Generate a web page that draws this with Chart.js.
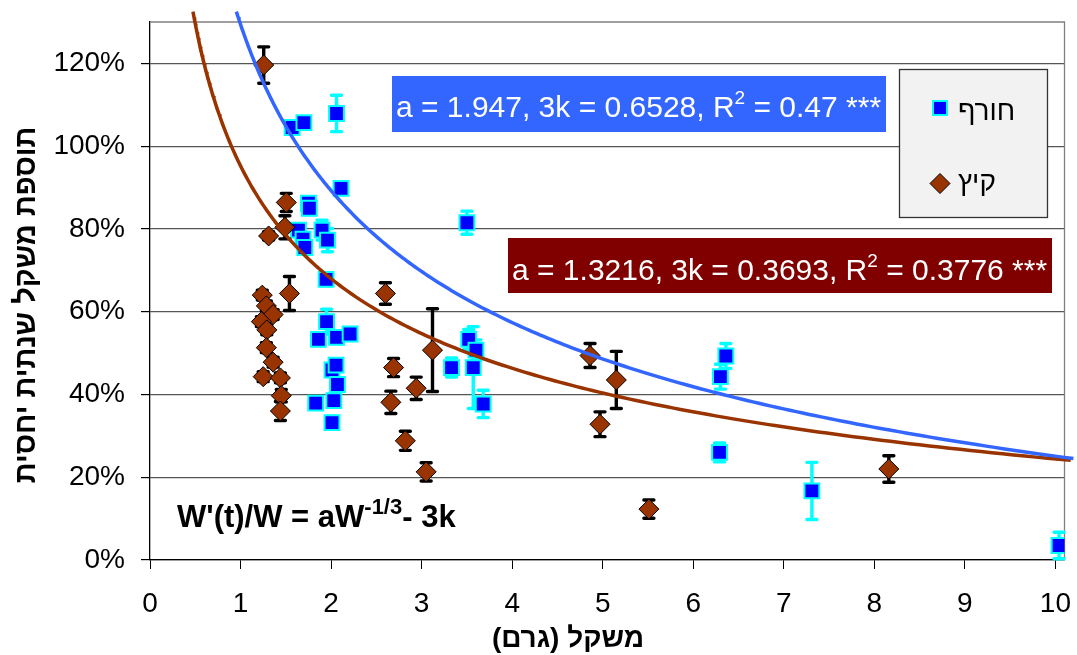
<!DOCTYPE html>
<html>
<head>
<meta charset="utf-8">
<script src="https://cdn.jsdelivr.net/npm/chart.js@4.4.1/dist/chart.umd.min.js"></script>
<style>
  html, body { margin: 0; padding: 0; background: #ffffff; }
  canvas { display: block; }
</style>
</head>
<body>
<canvas id="chart" width="1077" height="655"></canvas>
<script>
const FONT = '"Liberation Sans", Arial, "DejaVu Sans", sans-serif';

// Winter sample (חורף): body weight (g), relative annual weight gain (%), error half-length (%)
const winterX   = [1.57, 1.70, 2.06, 2.11, 1.75, 1.76, 1.64, 1.69, 1.71, 1.90, 1.96, 1.945, 1.95, 1.86, 2.06, 2.21, 2.01, 2.055, 2.07, 1.83, 2.03, 2.01, 3.50, 3.33, 3.52, 3.60, 3.57, 3.68, 6.36, 6.30, 6.29, 7.31, 10.04];
const winterY   = [104.5, 105.7, 107.9, 89.8, 86.2, 85.0, 79.7, 77.5, 75.5, 79.7, 77.3, 67.8, 57.6, 53.3, 53.8, 54.6, 45.9, 47.1, 42.4, 37.9, 38.5, 33.2, 81.5, 46.5, 53.3, 50.7, 46.5, 37.7, 49.3, 44.3, 26.0, 16.7, 3.5];
const winterErr = [1.2, 1.2, 4.4, 1.2, 1.5, 1.5, 1.5, 1.5, 1.5, 2.4, 2.8, 1.5, 3.0, 1.5, 1.5, 1.5, 1.5, 1.5, 1.5, 1.2, 1.5, 1.5, 2.8, 2.3, 2.4, 2.5, 9.9, 3.3, 3.0, 3.0, 2.3, 6.9, 3.2];

// Summer sample (קיץ)
const summerX   = [1.256, 1.505, 1.49, 1.31, 1.54, 1.24, 1.285, 1.36, 1.23, 1.29, 1.285, 1.36, 1.25, 1.44, 1.45, 1.44, 2.60, 2.69, 2.66, 2.94, 2.82, 3.05, 3.12, 4.86, 5.15, 4.97, 5.51, 8.16];
const summerY   = [119.6, 86.4, 80.4, 78.3, 64.4, 64.0, 61.4, 59.3, 57.6, 55.6, 51.3, 47.8, 44.3, 44.0, 39.7, 36.0, 64.4, 46.5, 38.1, 41.5, 28.8, 21.3, 50.7, 49.4, 43.5, 32.8, 12.3, 22.0];
const summerErr = [4.4, 2.2, 2.8, 1.0, 4.1, 1.2, 1.2, 1.2, 1.2, 1.2, 1.2, 1.2, 1.2, 1.2, 1.5, 2.3, 2.6, 2.2, 2.7, 2.7, 2.3, 2.2, 10.0, 2.9, 6.9, 3.0, 2.2, 3.2];

// Axis ticks
const xTicks = [0, 1, 2, 3, 4, 5, 6, 7, 8, 9, 10];
const yTicks = [0, 20, 40, 60, 80, 100, 120];

// Fitted growth model W'(t)/W = a·W^(-1/3) − 3k for each season
const winterFit = { a: 1.947,  k3: 0.6528, r2: 0.47 };
const summerFit = { a: 1.3216, k3: 0.3693, r2: 0.3776 };

const seriesNames = { winter: 'חורף', summer: 'קיץ' };
const colors = {
  winterFill: '#0000FF', winterEdge: '#00FFFF', winterLine: '#3366FF', winterBox: '#3366FF',
  summerFill: '#993300', summerEdge: '#000000', summerLine: '#993300', summerBox: '#800000'
};

function toPoints(xs, ys) { return xs.map((x, i) => ({ x: x, y: ys[i] })); }

// Sample the fitted curve from where it leaves the top of the figure to the right edge
function fitCurve(fit, yTopPct, xEnd) {
  const x0 = Math.pow((yTopPct / 100 + fit.k3) / fit.a, -3);
  const pts = [];
  const n = 240;
  for (let i = 0; i <= n; i++) {
    const x = x0 * Math.pow(xEnd / x0, i / n);
    pts.push({ x: x, y: 100 * (fit.a * Math.pow(x, -1 / 3) - fit.k3) });
  }
  return pts;
}

// Vertical error bars with flat caps, drawn just before each scatter series
const errorBars = {
  id: 'errorBars',
  beforeDatasetDraw(chart, args) {
    const ds = chart.data.datasets[args.index];
    if (!ds.errors) return;
    const ctx = chart.ctx, xs = chart.scales.x, ys = chart.scales.y;
    ctx.save();
    ctx.strokeStyle = ds.errorColor;
    ctx.lineWidth = 3.4;
    ctx.lineCap = 'round';
    ds.data.forEach((p, i) => {
      const e = ds.errors[i];
      const px = xs.getPixelForValue(p.x);
      const top = ys.getPixelForValue(p.y + e);
      const bot = ys.getPixelForValue(p.y - e);
      ctx.beginPath();
      ctx.moveTo(px, top); ctx.lineTo(px, bot);
      ctx.moveTo(px - 5, top); ctx.lineTo(px + 5, top);
      ctx.moveTo(px - 5, bot); ctx.lineTo(px + 5, bot);
      ctx.stroke();
    });
    ctx.restore();
  }
};

// Write a run of text pieces, some of them raised as superscripts
function drawRich(ctx, parts, x, baseline, color, weight) {
  ctx.fillStyle = color;
  ctx.textAlign = 'left';
  ctx.textBaseline = 'alphabetic';
  ctx.direction = 'ltr';
  let cx = x;
  parts.forEach(p => {
    ctx.font = `${weight} ${p.size}px ${FONT}`;
    ctx.fillText(p.t, cx, baseline + (p.dy || 0));
    cx += ctx.measureText(p.t).width;
  });
}

function fitLabel(fit) {
  return [
    { t: `a = ${fit.a}, 3k = ${fit.k3}, R`, size: 30 },
    { t: '2', size: 19, dy: -13 },
    { t: ` = ${fit.r2} ***`, size: 30 }
  ];
}

const decorations = {
  id: 'decorations',
  beforeDatasetsDraw(chart) {
    const ctx = chart.ctx, a = chart.chartArea;
    // plot-area frame on the top and right
    ctx.save();
    ctx.strokeStyle = '#808080';
    ctx.lineWidth = 1.3;
    ctx.beginPath();
    ctx.moveTo(a.left, a.top); ctx.lineTo(a.right, a.top); ctx.lineTo(a.right, a.bottom);
    ctx.stroke();
    ctx.restore();
  },
  afterDraw(chart) {
    const ctx = chart.ctx;
    ctx.save();

    // axis titles
    ctx.fillStyle = '#000';
    ctx.direction = 'rtl';
    ctx.textAlign = 'center';
    ctx.font = `bold 28px ${FONT}`;
    ctx.textBaseline = 'alphabetic';
    ctx.fillText('משקל (גרם)', 568, 647);

    ctx.save();
    ctx.translate(27, 305);
    ctx.rotate(-Math.PI / 2);
    ctx.textBaseline = 'middle';
    ctx.font = `bold 29px ${FONT}`;
    ctx.fillText('תוספת משקל שנתית יחסית', 0, 0);
    ctx.restore();

    // fit statistics boxes
    ctx.fillStyle = colors.winterBox;
    ctx.fillRect(392, 76, 494, 56);
    drawRich(ctx, fitLabel(winterFit), 396, 117, '#ffffff', 'normal');

    ctx.fillStyle = colors.summerBox;
    ctx.fillRect(508, 238, 544, 55);
    drawRich(ctx, fitLabel(summerFit), 512, 280, '#ffffff', 'normal');

    // model formula
    drawRich(ctx, [
      { t: "W'(t)/W = aW", size: 31 },
      { t: '-1/3', size: 22, dy: -13 },
      { t: '- 3k', size: 31 }
    ], 177, 527, '#000000', 'bold');

    // legend
    ctx.fillStyle = '#F2F2F2';
    ctx.fillRect(899.5, 69.5, 148, 148);
    ctx.strokeStyle = '#333333';
    ctx.lineWidth = 1.3;
    ctx.strokeRect(899.5, 69.5, 148, 148);

    ctx.fillStyle = colors.winterFill;
    ctx.fillRect(933, 101, 14, 14);
    ctx.strokeStyle = colors.winterEdge;
    ctx.lineWidth = 2;
    ctx.strokeRect(933, 101, 14, 14);

    ctx.beginPath();
    ctx.moveTo(940, 173.5); ctx.lineTo(950, 183.5); ctx.lineTo(940, 193.5); ctx.lineTo(930, 183.5);
    ctx.closePath();
    ctx.fillStyle = colors.summerFill;
    ctx.fill();
    ctx.strokeStyle = colors.summerEdge;
    ctx.lineWidth = 1;
    ctx.stroke();

    ctx.fillStyle = '#000';
    ctx.font = `28px ${FONT}`;
    ctx.direction = 'rtl';
    ctx.textAlign = 'left';
    ctx.textBaseline = 'alphabetic';
    ctx.fillText(seriesNames.winter, 958, 120);
    ctx.fillText(seriesNames.summer, 958, 191);

    ctx.restore();
  }
};

const tickFont = { family: FONT, size: 28 };

new Chart(document.getElementById('chart'), {
  type: 'scatter',
  data: {
    datasets: [
      {
        label: seriesNames.winter,
        data: toPoints(winterX, winterY),
        errors: winterErr,
        errorColor: colors.winterEdge,
        pointStyle: 'rect',
        pointRadius: 10.5,
        backgroundColor: colors.winterFill,
        borderColor: colors.winterEdge,
        borderWidth: 2,
        order: 3
      },
      {
        label: seriesNames.summer,
        data: toPoints(summerX, summerY),
        errors: summerErr,
        errorColor: colors.summerEdge,
        pointStyle: 'rectRot',
        pointRadius: 10,
        backgroundColor: colors.summerFill,
        borderColor: colors.summerEdge,
        borderWidth: 1,
        order: 2
      },
      {
        type: 'line',
        data: fitCurve(summerFit, 132.5, 10.3),
        borderColor: colors.summerLine,
        borderWidth: 3.5,
        pointRadius: 0,
        fill: false,
        clip: false,
        order: 1
      },
      {
        type: 'line',
        data: fitCurve(winterFit, 132.5, 10.3),
        borderColor: colors.winterLine,
        borderWidth: 3.5,
        pointRadius: 0,
        fill: false,
        clip: false,
        order: 0
      }
    ]
  },
  options: {
    responsive: false,
    animation: false,
    devicePixelRatio: 1,
    layout: { padding: { top: 22, right: 10, bottom: 0, left: 0 } },
    plugins: { legend: { display: false }, tooltip: { enabled: false } },
    scales: {
      x: {
        type: 'linear',
        min: 0,
        max: 10.1,
        afterBuildTicks: s => { s.ticks = xTicks.map(v => ({ value: v })); },
        afterFit: s => { s.height = 95; s.paddingLeft = 0; s.paddingRight = 0; },
        ticks: { font: tickFont, color: '#000', padding: 18, autoSkip: false, maxRotation: 0 },
        grid: { drawOnChartArea: false, drawTicks: true, tickLength: 9, tickColor: '#000', lineWidth: 1 },
        border: { color: '#000', width: 1.3 }
      },
      y: {
        type: 'linear',
        min: 0,
        max: 130,
        afterBuildTicks: s => { s.ticks = yTicks.map(v => ({ value: v })); },
        afterFit: s => { s.width = 150; s.paddingTop = 0; s.paddingBottom = 0; },
        ticks: { font: tickFont, color: '#000', padding: 16, callback: v => v + '%' },
        grid: { color: '#555555', lineWidth: 1.2, drawTicks: true, tickLength: 9, tickColor: '#000' },
        border: { color: '#000', width: 1.3 }
      }
    }
  },
  plugins: [errorBars, decorations]
});
</script>
</body>
</html>
